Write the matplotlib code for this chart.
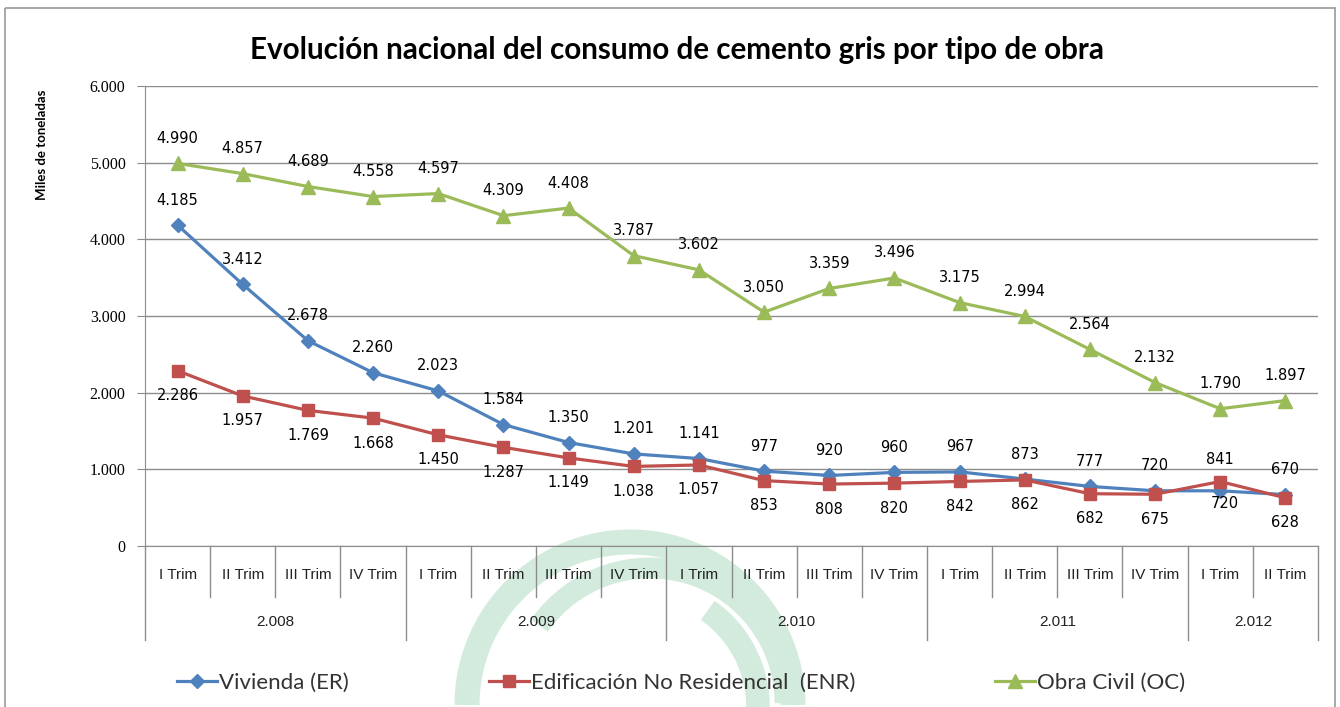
import matplotlib
matplotlib.use('Agg')
import matplotlib.pyplot as plt
from matplotlib.patches import Arc, Rectangle
from matplotlib.lines import Line2D
import matplotlib.transforms as mtransforms

# Data
trimestres = ['I Trim', 'II Trim', 'III Trim', 'IV Trim'] * 4 + ['I Trim', 'II Trim']
years = ['2.008', '2.009', '2.010', '2.011', '2.012']
quarters_per_year = [4, 4, 4, 4, 2]

vivienda = [4185, 3412, 2678, 2260, 2023, 1584, 1350, 1201, 1141,
            977, 920, 960, 967, 873, 777, 720, 720, 670]
no_residencial = [2286, 1957, 1769, 1668, 1450, 1287, 1149, 1038, 1057,
                  853, 808, 820, 842, 862, 682, 675, 841, 628]
obra_civil = [4990, 4857, 4689, 4558, 4597, 4309, 4408, 3787, 3602,
              3050, 3359, 3496, 3175, 2994, 2564, 2132, 1790, 1897]

W, H = 1340, 707
BLUE, RED, GREEN = '#4F81BD', '#C0504D', '#9BBB59'
GRID = '#8C8C8C'


def fmt(v):
    return f'{v:,}'.replace(',', '.')


fig = plt.figure(figsize=(W / 100, H / 100), dpi=100)
fig.patch.set_facecolor('white')

# watermark logo (background)
bg = fig.add_axes([0, 0, 1, 1], zorder=-5)
bg.set_xlim(0, W)
bg.set_ylim(H, 0)
bg.axis('off')
wm = '#D3EBDD'
bg.add_patch(Arc((630, 705), 326, 326, theta1=180, theta2=360, color=wm, lw=18))
bg.add_patch(Arc((650, 703), 270, 270, theta1=215, theta2=360, color=wm, lw=15))
bg.add_patch(Arc((640, 707), 236, 236, theta1=305, theta2=360, color=wm, lw=17))
# outer frame
bg.add_patch(Rectangle((5, 8), 1330, 720, fill=False, ec='#9A9A9A', lw=1.2))

ax = fig.add_axes([145 / W, 1 - 546 / H, (1318 - 145) / W, (546 - 86) / H])
ax.set_facecolor('none')

x = list(range(len(trimestres)))
ax.plot(x, vivienda, color=BLUE, lw=2.3, marker='D', ms=7, zorder=3)
ax.plot(x, no_residencial, color=RED, lw=2.3, marker='s', ms=9, zorder=3)
ax.plot(x, obra_civil, color=GREEN, lw=2.3, marker='^', ms=10, zorder=3)

ax.set_xlim(-0.5, len(x) - 0.5)
ax.set_ylim(0, 6000)
ax.set_yticks(range(0, 6001, 1000))
ax.set_yticklabels([fmt(v) for v in range(0, 6001, 1000)],
                   fontfamily='Liberation Serif', fontsize=11.5)
ax.yaxis.grid(True, color=GRID, lw=1)
ax.set_axisbelow(True)
ax.tick_params(axis='y', length=6, color=GRID, pad=8)
ax.set_xticks([])
for s in ['top', 'right']:
    ax.spines[s].set_visible(False)
ax.spines['left'].set_color(GRID)
ax.spines['bottom'].set_color(GRID)

# data labels
off = 18
lab = dict(ha='center', va='center', fontsize=10.5, textcoords='offset points')
for i, v in enumerate(obra_civil):
    ax.annotate(fmt(v), (i, v), xytext=(0, off), **lab)
for i, v in enumerate(vivienda):
    dy, dx = (off, 0) if i != 16 else (-9, 3)
    ax.annotate(fmt(v), (i, v), xytext=(dx, dy), **lab)
for i, v in enumerate(no_residencial):
    dy = -off if i != 16 else 16
    ax.annotate(fmt(v), (i, v), xytext=(0, dy), **lab)

# two-level category axis
trans = mtransforms.blended_transform_factory(ax.transData, ax.transAxes)
for i, t in enumerate(trimestres):
    ax.text(i, -0.062, t, transform=trans, ha='center', va='center',
            fontsize=11, fontfamily='Liberation Sans', color='#222222')
year_bounds = [-0.5]
for n in quarters_per_year:
    year_bounds.append(year_bounds[-1] + n)
for b in [v - 0.5 for v in x] + [len(x) - 0.5]:
    if b in year_bounds:
        continue
    ax.plot([b, b], [0, -0.111], transform=trans, color=GRID, lw=1, clip_on=False)
for b in year_bounds:
    ax.plot([b, b], [0, -0.204], transform=trans, color=GRID, lw=1, clip_on=False)
for k, yl in enumerate(years):
    c = (year_bounds[k] + year_bounds[k + 1]) / 2
    ax.text(c, -0.165, yl, transform=trans, ha='center', va='center',
            fontsize=11, fontfamily='Liberation Sans', color='#222222')

fig.text(677 / W, 1 - 50 / H, 'Evolución nacional del consumo de cemento gris por tipo de obra',
         ha='center', va='center', fontsize=21.3, fontweight='bold', fontfamily='Lato')
fig.text(42 / W, 1 - 145 / H, 'Miles de toneladas', rotation=90, ha='center', va='center',
         fontsize=9.5, fontweight='bold', fontfamily='Lato')

handles = [
    Line2D([], [], color=BLUE, lw=2.3, marker='D', ms=7),
    Line2D([], [], color=RED, lw=2.3, marker='s', ms=9),
    Line2D([], [], color=GREEN, lw=2.3, marker='^', ms=10),
]
labels = ['Vivienda (ER)', 'Edificación No Residencial  (ENR)', 'Obra Civil (OC)']
leg = fig.legend(handles, labels, loc='center', bbox_to_anchor=(681 / W, 1 - 683 / H),
                 ncol=3, frameon=False, prop={'family': 'Lato', 'size': 16},
                 handlelength=1.8, handletextpad=0.1, columnspacing=6.3)
for t in leg.get_texts():
    t.set_color('#333333')

fig.savefig('out.png', dpi=100, facecolor='white')
